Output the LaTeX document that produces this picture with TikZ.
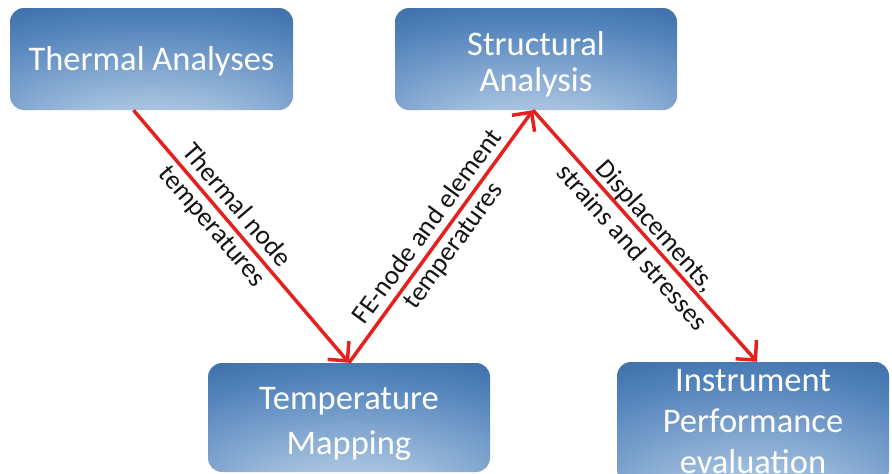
\documentclass[tikz,border=0pt]{standalone}
\usepackage{fontspec}
\setmainfont{Carlito}
\usetikzlibrary{arrows.meta}

\definecolor{boxdark}{RGB}{36,84,144}
\definecolor{boxmid}{RGB}{84,132,188}
\definecolor{boxlight}{RGB}{190,212,234}
\definecolor{flowred}{RGB}{230,32,28}
\definecolor{labeltext}{RGB}{20,20,20}

% light spot near the bottom centre, darkening towards the rim
\pgfdeclareradialshading{boxshade}{\pgfpoint{0bp}{-44bp}}{%
  color(0bp)=(boxlight); color(14bp)=(boxlight!75!boxmid);
  color(38bp)=(boxmid); color(60bp)=(boxdark); color(72bp)=(boxdark)}

\tikzset{
  stagebox/.style={rounded corners=14pt, shade, shading=boxshade,
    inner sep=0pt},
  stagetext/.style={text=white, align=center, inner sep=0pt,
    font=\fontsize{34.5}{40}\selectfont},
  flow/.style={draw=flowred, line width=3.5pt,
    -{Straight Barb[length=14pt,width=28pt,line width=3.5pt]}},
  flowlabel/.style={sloped, align=center, text=labeltext,
    font=\fontsize{27}{32}\selectfont}
}

\begin{document}
\begin{tikzpicture}[x=1pt,y=-1pt]
\useasboundingbox (0,0) rectangle (892,474);
\clip (0,0) rectangle (892,474);

% boxes
\node[stagebox, minimum width=283pt, minimum height=102pt]
  (thermal) at (151.5,59) {};
\node[stagebox, minimum width=282pt, minimum height=102pt]
  (struct) at (536,59) {};
\node[stagebox, minimum width=282pt, minimum height=109pt]
  (tmap) at (349,417.5) {};
\node[stagebox, minimum width=272pt, minimum height=122pt]
  (instr) at (753,423) {};

% box captions
\node[stagetext] (thermaltxt) at ([yshift=-2pt]thermal.center)
  {Thermal Analyses};
\node[stagetext, font=\fontsize{34.5}{36}\selectfont] (structtxt)
  at ([yshift=-5pt]struct.center) {Structural\\Analysis};
\node[stagetext, font=\fontsize{34.5}{45}\selectfont] (tmaptxt)
  at ([yshift=-6pt]tmap.center) {Temperature\\Mapping};
\node[stagetext, font=\fontsize{34.5}{41}\selectfont] (instrtxt)
  at ([yshift=1pt]instr.center) {Instrument\\Performance\\evaluation};

% data flow
\draw[flow] ([xshift=-18pt]thermal.south)
  -- node[flowlabel, pos=0.42] {Thermal node\\temperatures} (tmap.north);
\draw[flow] (tmap.north)
  -- node[flowlabel, pos=0.5] {FE-node and element\\temperatures}
  ([xshift=-3pt]struct.south);
\draw[flow] ([xshift=-3pt]struct.south)
  -- node[flowlabel, pos=0.5] {Displacements,\\strains and stresses}
  ([xshift=4pt]instr.north);
\end{tikzpicture}
\end{document}
